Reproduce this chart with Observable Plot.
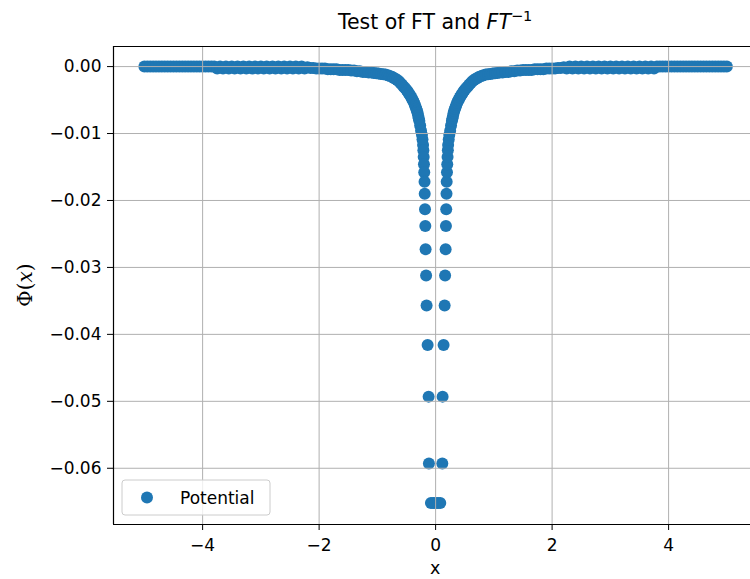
<!DOCTYPE html>
<html><head><meta charset="utf-8">
<script src="https://cdn.jsdelivr.net/npm/d3@7"></script>
<script src="https://cdn.jsdelivr.net/npm/@observablehq/plot@0.6"></script>
<style>body{margin:0;background:#fff} svg{font-family:"DejaVu Sans",sans-serif}</style>
</head><body><div id="chart"></div>
<script>
// Left half of the sampled potential (x < 0)
const xLeft = [-5.00,-4.95,-4.90,-4.85,-4.80,-4.75,-4.70,-4.65,-4.60,-4.55,-4.50,-4.45,-4.40,
  -4.35,-4.30,-4.25,-4.20,-4.15,-4.10,-4.05,-4.00,-3.95,-3.90,-3.85,-3.80,
  -3.75,-3.70,-3.65,-3.60,-3.55,-3.50,-3.45,-3.40,-3.35,-3.30,-3.25,-3.20,-3.15,-3.10,-3.05,-3.00,
  -2.95,-2.90,-2.85,-2.80,-2.75,-2.70,-2.65,-2.60,-2.55,-2.50,-2.45,-2.40,-2.35,-2.30,-2.25,-2.20,
  -2.15,-2.10,-2.05,-2.00,-1.95,-1.90,-1.85,-1.80,-1.75,-1.70,-1.65,-1.60,-1.55,-1.50,-1.45,-1.40,
  -1.35,-1.30,-1.25,-1.20,-1.15,-1.10,-1.06,-1.02,-0.98,-0.94,-0.90,-0.86,-0.82,-0.79,-0.75,-0.72,
  -0.69,-0.66,-0.63,-0.60,-0.575,-0.55,-0.525,-0.50,-0.48,-0.46,-0.445,-0.43,-0.415,-0.40,-0.385,-0.37,
  -0.357,-0.345,-0.332,-0.32,-0.31,-0.30,-0.29,-0.28,-0.265,-0.25,
  -0.235,-0.225,-0.215,-0.21,-0.205,-0.20,-0.195,-0.19,-0.187,-0.182,-0.177,-0.172,
  -0.163,-0.155,-0.137,-0.12,-0.115,-0.08,-0.04];
const phiLeft = [0,0,0,0,0,0,0,0,0,0,0,0,0,
  0,0,0,0,0,0,0,0,0,0,0,0,
  -0.0003,0,-0.0003,0,-0.0003,0,-0.0003,0,-0.0003,0,-0.0003,0,-0.0003,0,-0.0003,0,
  -0.0003,0,-0.0003,0,-0.0003,0,-0.0003,0,-0.0003,0,-0.0003,0,-0.0003,0,-0.0003,-0.0001,
  -0.0002,-0.0002,-0.0003,-0.0003,-0.0003,-0.0003,-0.0004,-0.0004,-0.0004,-0.0004,-0.0005,-0.0005,-0.0005,-0.0005,-0.0006,-0.0006,
  -0.0007,-0.0007,-0.0008,-0.0008,-0.0009,-0.0009,-0.00095,-0.0010,-0.00105,-0.0011,-0.00115,-0.0012,-0.0013,-0.0014,-0.0015,-0.0017,
  -0.0018,-0.0020,-0.0022,-0.0025,-0.0027,-0.0030,-0.0032,-0.0035,-0.0037,-0.0040,-0.0042,-0.0044,-0.0046,-0.0049,-0.0051,-0.0054,
  -0.0057,-0.0060,-0.0063,-0.0066,-0.0069,-0.0073,-0.0077,-0.0081,-0.0088,-0.0096,
  -0.0102,-0.0109,-0.0117,-0.0125,-0.0135,-0.0146,-0.0158,-0.0172,-0.0190,-0.0213,-0.0238,-0.0273,
  -0.0312,-0.0357,-0.0416,-0.0493,-0.0593,-0.0652,-0.0652];
// Centre sample
const xCenter = [0.0];
const phiCenter = [-0.0652];
// Right half (x > 0)
const xRight = [0.04,0.08,0.115,0.12,0.137,0.155,0.163,
  0.172,0.177,0.182,0.187,0.19,0.195,0.20,0.205,0.21,0.215,0.225,0.235,
  0.25,0.265,0.28,0.29,0.30,0.31,0.32,0.332,0.345,0.357,
  0.37,0.385,0.40,0.415,0.43,0.445,0.46,0.48,0.50,0.525,0.55,0.575,0.60,0.63,0.66,0.69,
  0.72,0.75,0.79,0.82,0.86,0.90,0.94,0.98,1.02,1.06,1.10,1.15,1.20,1.25,1.30,1.35,
  1.40,1.45,1.50,1.55,1.60,1.65,1.70,1.75,1.80,1.85,1.90,1.95,2.00,2.05,2.10,2.15,
  2.20,2.25,2.30,2.35,2.40,2.45,2.50,2.55,2.60,2.65,2.70,2.75,2.80,2.85,2.90,2.95,
  3.00,3.05,3.10,3.15,3.20,3.25,3.30,3.35,3.40,3.45,3.50,3.55,3.60,3.65,3.70,3.75,
  3.80,3.85,3.90,3.95,4.00,4.05,4.10,4.15,4.20,4.25,4.30,4.35,4.40,
  4.45,4.50,4.55,4.60,4.65,4.70,4.75,4.80,4.85,4.90,4.95,5.00];
const phiRight = [-0.0652,-0.0652,-0.0593,-0.0493,-0.0416,-0.0357,-0.0312,
  -0.0273,-0.0238,-0.0213,-0.0190,-0.0172,-0.0158,-0.0146,-0.0135,-0.0125,-0.0117,-0.0109,-0.0102,
  -0.0096,-0.0088,-0.0081,-0.0077,-0.0073,-0.0069,-0.0066,-0.0063,-0.0060,-0.0057,
  -0.0054,-0.0051,-0.0049,-0.0046,-0.0044,-0.0042,-0.0040,-0.0037,-0.0035,-0.0032,-0.0030,-0.0027,-0.0025,-0.0022,-0.0020,-0.0018,
  -0.0017,-0.0015,-0.0014,-0.0013,-0.0012,-0.00115,-0.0011,-0.00105,-0.0010,-0.00095,-0.0009,-0.0009,-0.0008,-0.0008,-0.0007,-0.0007,
  -0.0006,-0.0006,-0.0005,-0.0005,-0.0005,-0.0005,-0.0004,-0.0004,-0.0004,-0.0004,-0.0003,-0.0003,-0.0003,-0.0003,-0.0002,-0.0002,
  -0.0001,-0.0003,0,-0.0003,0,-0.0003,0,-0.0003,0,-0.0003,0,-0.0003,0,-0.0003,0,-0.0003,
  0,-0.0003,0,-0.0003,0,-0.0003,0,-0.0003,0,-0.0003,0,-0.0003,0,-0.0003,0,-0.0003,
  0,0,0,0,0,0,0,0,0,0,0,0,0,
  0,0,0,0,0,0,0,0,0,0,0,0];

const xTicks = [-4,-2,0,2,4];
const yTicks = [0,-0.01,-0.02,-0.03,-0.04,-0.05,-0.06];
const titleText = "Test of FT and ";
const titleMath = "FT";
const titleSup = "\u22121";
const xLabel = "x";
const seriesName = "Potential";
const color = "#1f77b4";

const data = [];
[[xLeft,phiLeft],[xCenter,phiCenter],[xRight,phiRight]].forEach(([xs,ps]) =>
  xs.forEach((x,i) => data.push({x, phi: ps[i]})));

const xDom = [-5.53, 5.406], yDom = [-0.0684, 0.0030];
const plot = Plot.plot({
  width: 750, height: 579,
  marginTop: 46, marginBottom: 55, marginLeft: 113, marginRight: 0,
  x: {domain: xDom}, y: {domain: yDom},
  style: {fontFamily: "DejaVu Sans", fontSize: "17px", background: "#fff", color: "#000"},
  marks: [
    Plot.dot(data, {x: "x", y: "phi", r: 6, fill: color, stroke: "none"}),
    Plot.gridX(xTicks, {stroke: "#b0b0b0", strokeOpacity: 1, strokeWidth: 1}),
    Plot.gridY(yTicks, {stroke: "#b0b0b0", strokeOpacity: 1, strokeWidth: 1}),
    Plot.axisX(xTicks, {tickSize: 6, tickPadding: 8, tickFormat: d3.format("d"), label: null, fontSize: 17}),
    Plot.axisY(yTicks, {tickSize: 6, tickPadding: 6, tickFormat: d3.format(".2f"), label: null, fontSize: 17}),
    Plot.ruleX([xDom[0]], {stroke: "#000", strokeWidth: 1.2}),
    Plot.ruleY(yDom, {stroke: "#000", strokeWidth: 1.2})
  ]
});
document.getElementById("chart").appendChild(plot);

const svg = d3.select(plot);
const sx = plot.scale("x"), sy = plot.scale("y");
const cx = (sx.apply(xDom[0]) + sx.apply(-xDom[0])) / 2;
const frameTop = sy.apply(yDom[1]), frameBottom = sy.apply(yDom[0]), frameLeft = sx.apply(xDom[0]);

// Title
const t = svg.append("text").attr("x", cx).attr("y", frameTop - 17)
  .attr("text-anchor", "middle").attr("font-size", 20.5).attr("fill", "#000")
  .attr("font-family", "DejaVu Sans");
t.append("tspan").text(titleText);
t.append("tspan").attr("font-style", "italic").text(titleMath);
t.append("tspan").attr("font-size", 14.5).attr("dy", -8).text(titleSup);

// x label
svg.append("text").attr("x", cx).attr("y", frameBottom + 50).attr("text-anchor", "middle")
  .attr("font-size", 17.5).attr("fill", "#000").text(xLabel);

// y label  Φ(x)
const yl = svg.append("text").attr("transform", `translate(32,${(frameTop + frameBottom) / 2}) rotate(-90)`)
  .attr("text-anchor", "middle").attr("font-size", 20).attr("fill", "#000")
  .attr("font-family", "DejaVu Serif");
yl.append("tspan").text("\u03A6(");
yl.append("tspan").attr("font-style", "italic").text("x");
yl.append("tspan").text(")");

// Legend
const lg = svg.append("g").attr("transform", `translate(${frameLeft + 9},${frameBottom - 44})`);
lg.append("rect").attr("width", 148).attr("height", 35).attr("rx", 3)
  .attr("fill", "#fff").attr("fill-opacity", 0.8).attr("stroke", "#cccccc");
lg.append("circle").attr("cx", 25).attr("cy", 17.5).attr("r", 6).attr("fill", color);
lg.append("text").attr("x", 58).attr("y", 23.5).attr("text-anchor", "start")
  .attr("font-size", 17).attr("fill", "#000").text(seriesName);
</script>
</body></html>
